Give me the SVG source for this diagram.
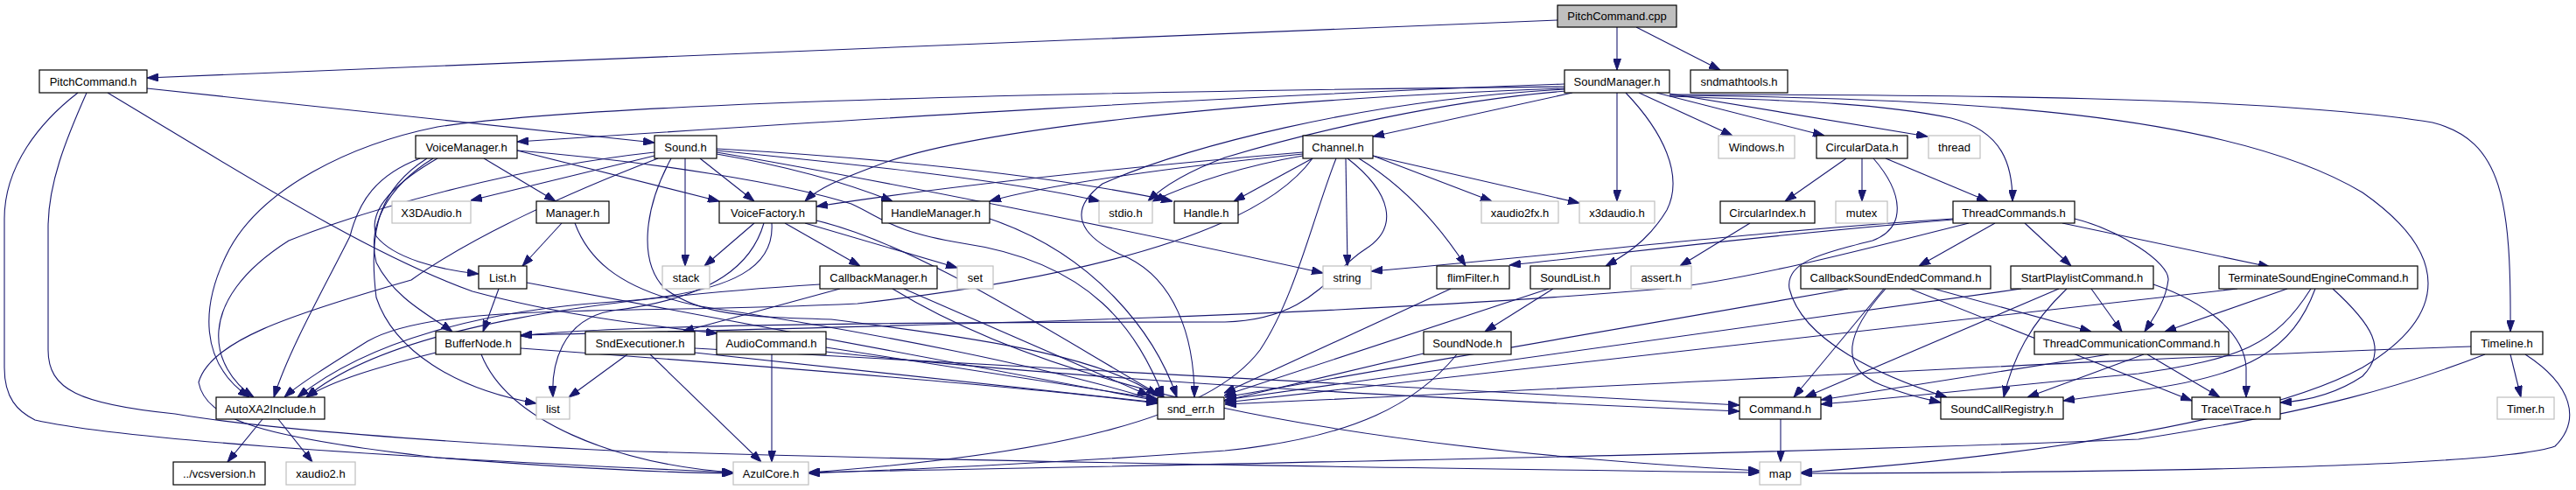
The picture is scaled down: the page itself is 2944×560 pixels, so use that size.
<svg xmlns="http://www.w3.org/2000/svg" width="2944" height="560" viewBox="0 0 2944 560">
<style>
.n rect{fill:#fff;stroke:#000;stroke-width:1.2}
.x rect{fill:#fff;stroke:#bfbfbf;stroke-width:1.2}
.r rect{fill:#bfbfbf;stroke:#000;stroke-width:1.2}
text{font-family:"Liberation Sans",Arial,sans-serif;font-size:13px;text-anchor:middle;fill:#000}
#edges path{fill:none;stroke:#191970;stroke-width:1.1;marker-end:url(#a)}
</style>
<defs>
<marker id="a" viewBox="0 0 13 9" refX="13" refY="4.5" markerWidth="13" markerHeight="9" markerUnits="userSpaceOnUse" orient="auto"><path d="M0,0L13,4.5L0,9z" fill="#191970" stroke="#191970"/></marker>
</defs>
<rect width="2944" height="560" fill="#fff"/>
<g id="edges">
<path d="M1780,23 L168,89"/>
<path d="M1848,31 L1848,80"/>
<path d="M1870,31 L1966,80"/>
<path d="M168,101 L748,163"/>
<path d="M123,106 C280,200 420,290 540,333 C640,360 740,372 820,381"/>
<path d="M89,106 C45,140 5,190 5,250 L5,420 C5,455 20,470 40,480 C150,505 500,525 838,540"/>
<path d="M99,106 C75,160 55,210 55,260 L55,400 C55,445 90,462 200,473 C300,490 500,505 700,515 C1200,530 1700,536 2011,540"/>
<path d="M1788,96 C1400,110 1000,135 591,162"/>
<path d="M1797,106 L1569,156"/>
<path d="M1788,99 C1300,104 700,115 500,145 C400,165 300,215 262,285 C228,350 228,415 285,454"/>
<path d="M1788,101 C1400,115 1100,150 1000,190 C960,205 935,215 920,230"/>
<path d="M1790,104 C1650,115 1500,150 1400,180 C1360,195 1330,212 1312,230"/>
<path d="M1790,102 C1550,115 1350,170 1260,210 C1220,240 1230,270 1290,295 C1340,320 1365,380 1365,454"/>
<path d="M1858,106 C1900,150 1925,200 1905,240 C1890,265 1870,285 1835,304"/>
<path d="M1873,106 L1980,155"/>
<path d="M1893,106 L2085,155"/>
<path d="M1908,107 L2203,156"/>
<path d="M1908,110 C2050,115 2150,118 2230,135 C2290,150 2300,190 2300,230"/>
<path d="M1908,108 C2200,108 2600,110 2780,140 C2860,160 2870,230 2869,379"/>
<path d="M1908,109 C2250,112 2550,130 2700,220 C2800,290 2800,360 2700,420 C2600,475 2350,520 2058,540"/>
<path d="M1848,106 L1848,230"/>
<path d="M748,178 L538,229"/>
<path d="M800,181 L862,230"/>
<path d="M819,176 C900,190 970,210 1020,230"/>
<path d="M819,172 C950,185 1150,205 1257,230"/>
<path d="M819,170 C1000,180 1200,200 1340,230"/>
<path d="M819,174 C1000,205 1300,265 1512,312"/>
<path d="M767,181 C735,240 730,300 760,330 C800,360 850,362 950,365 C1150,390 1260,410 1323,452"/>
<path d="M783,181 L783,304"/>
<path d="M748,174 C600,190 430,235 330,275 C220,345 240,420 290,454"/>
<path d="M752,181 C650,220 540,270 470,320 C330,360 240,390 227,437 C235,480 300,500 500,523 C650,535 750,540 838,541"/>
<path d="M500,181 C450,210 420,240 430,270 C450,295 500,308 547,313"/>
<path d="M553,181 L635,230"/>
<path d="M591,172 L822,230"/>
<path d="M480,181 C430,200 410,230 400,270 C370,330 330,400 313,454"/>
<path d="M495,181 C440,215 420,260 430,300 C450,340 490,360 517,379"/>
<path d="M488,181 C435,215 420,260 430,340 C450,400 520,445 613,461"/>
<path d="M591,172 C750,185 900,210 973,233 C1010,250 1020,265 1100,278 C1250,300 1300,380 1330,454"/>
<path d="M642,255 L597,304"/>
<path d="M657,255 C670,290 700,330 800,350 C1000,380 1200,420 1323,458"/>
<path d="M862,255 L805,304"/>
<path d="M873,255 C860,300 820,340 700,355 C640,365 630,420 632,454"/>
<path d="M882,255 C885,300 850,335 700,345 C550,355 420,390 340,454"/>
<path d="M897,255 L983,304"/>
<path d="M920,255 L1094,306"/>
<path d="M933,252 C1050,280 1200,380 1330,454"/>
<path d="M960,330 L780,379"/>
<path d="M937,325 C700,340 450,370 350,454"/>
<path d="M1033,330 L1313,452"/>
<path d="M1020,330 C1200,440 1500,510 2011,538"/>
<path d="M1489,174 C1300,190 1100,210 933,236"/>
<path d="M1489,176 C1350,190 1200,210 1131,230"/>
<path d="M1489,178 C1420,190 1360,210 1317,230"/>
<path d="M1500,181 L1410,230"/>
<path d="M1538,181 L1540,304"/>
<path d="M1569,178 L1705,230"/>
<path d="M1569,178 L1805,232"/>
<path d="M1553,181 C1600,210 1640,250 1675,304"/>
<path d="M1527,181 C1500,250 1480,340 1440,400 C1380,480 1200,520 924,540"/>
<path d="M1540,181 C1590,220 1600,260 1560,285 C1520,310 1500,365 1400,368 C1100,368 700,370 595,384"/>
<path d="M1500,181 C1450,250 1300,310 980,347 C700,360 500,345 420,390 C380,415 340,440 325,454"/>
<path d="M1131,250 C1250,290 1320,380 1345,454"/>
<path d="M570,330 L552,379"/>
<path d="M602,323 L1323,458"/>
<path d="M498,403 C430,420 380,435 350,454"/>
<path d="M550,405 C580,480 700,530 838,540"/>
<path d="M595,398 C900,420 1200,445 1323,461"/>
<path d="M717,405 L650,454"/>
<path d="M743,405 L870,528"/>
<path d="M794,403 L1323,460"/>
<path d="M794,398 C1200,420 1700,450 1988,463"/>
<path d="M882,405 L882,528"/>
<path d="M944,397 L1323,456"/>
<path d="M944,402 C1300,440 1700,458 1988,470"/>
<path d="M1658,330 L1399,449"/>
<path d="M1770,330 L1399,452"/>
<path d="M1775,330 L1697,379"/>
<path d="M1627,404 L1399,458"/>
<path d="M1665,405 C1620,460 1550,500 1400,515 C1200,530 1000,538 924,541"/>
<path d="M2110,181 L2040,230"/>
<path d="M2128,181 L2128,230"/>
<path d="M2155,181 L2272,230"/>
<path d="M2141,181 C2175,220 2180,260 2140,275 C2080,290 2040,300 2045,330 C2060,390 2150,430 2225,454"/>
<path d="M2000,255 L1920,304"/>
<path d="M2280,255 L2193,304"/>
<path d="M2314,255 L2367,304"/>
<path d="M2357,255 L2594,305"/>
<path d="M2371,250 C2420,262 2480,300 2478,320 C2475,345 2460,365 2451,379"/>
<path d="M2232,250 C2000,265 1800,290 1567,310"/>
<path d="M2232,251 C2000,270 1850,290 1725,303"/>
<path d="M2250,255 C2150,280 2000,320 1900,330 C1500,365 900,375 595,383"/>
<path d="M2112,330 L1400,454"/>
<path d="M2153,330 L2050,454"/>
<path d="M2155,330 C2110,380 2100,420 2150,440 C2180,452 2200,456 2218,460"/>
<path d="M2183,330 L2505,458"/>
<path d="M2210,330 L2390,379"/>
<path d="M2310,330 L1400,457"/>
<path d="M2353,330 L2063,454"/>
<path d="M2362,330 C2320,370 2300,410 2290,454"/>
<path d="M2390,330 L2425,379"/>
<path d="M2461,325 C2520,345 2565,380 2567,420 L2567,454"/>
<path d="M2557,330 L1400,460"/>
<path d="M2614,330 L2474,379"/>
<path d="M2641,330 C2600,395 2560,410 2444,427 C2300,440 2200,452 2081,462"/>
<path d="M2646,330 C2620,400 2570,430 2444,446 L2358,458"/>
<path d="M2666,330 C2710,370 2730,400 2700,430 C2670,450 2640,458 2606,460"/>
<path d="M2410,405 L2081,457"/>
<path d="M2450,405 L2317,454"/>
<path d="M2454,405 L2537,454"/>
<path d="M2035,479 L2035,528"/>
<path d="M2869,405 L2881,454"/>
<path d="M2824,396 C2400,410 1900,440 1400,462"/>
<path d="M2840,405 C2750,440 2650,470 2444,502 C2000,520 1400,530 924,540"/>
<path d="M2886,405 C2940,440 2950,480 2920,510 C2850,535 2400,540 2058,541"/>
<path d="M300,479 L260,528"/>
<path d="M318,479 L357,528"/>
</g>
<g id="n_pitchcpp" class="r"><rect x="1780" y="6" width="136" height="25"/><text x="1848" y="23">PitchCommand.cpp</text></g>
<g id="n_pitchh" class="n"><rect x="45" y="80" width="123" height="26"/><text x="106.5" y="97.5">PitchCommand.h</text></g>
<g id="n_soundmanager" class="n"><rect x="1788" y="80" width="120" height="26"/><text x="1848" y="97.5">SoundManager.h</text></g>
<g id="n_sndmathtools" class="n"><rect x="1932" y="80" width="111" height="26"/><text x="1987.5" y="97.5">sndmathtools.h</text></g>
<g id="n_voicemanager" class="n"><rect x="475" y="155" width="116" height="26"/><text x="533" y="172.5">VoiceManager.h</text></g>
<g id="n_sound" class="n"><rect x="748" y="155" width="71" height="26"/><text x="783.5" y="172.5">Sound.h</text></g>
<g id="n_channel" class="n"><rect x="1489" y="155" width="80" height="26"/><text x="1529" y="172.5">Channel.h</text></g>
<g id="n_windows" class="x"><rect x="1964" y="155" width="87" height="26"/><text x="2007.5" y="172.5">Windows.h</text></g>
<g id="n_circulardata" class="n"><rect x="2076" y="155" width="104" height="26"/><text x="2128" y="172.5">CircularData.h</text></g>
<g id="n_thread" class="x"><rect x="2204" y="155" width="59" height="26"/><text x="2233.5" y="172.5">thread</text></g>
<g id="n_x3daudio_u" class="x"><rect x="448" y="230" width="90" height="25"/><text x="493" y="247.5">X3DAudio.h</text></g>
<g id="n_manager" class="n"><rect x="613" y="230" width="83" height="25"/><text x="654.5" y="247.5">Manager.h</text></g>
<g id="n_voicefactory" class="n"><rect x="822" y="230" width="111" height="25"/><text x="877.5" y="247.5">VoiceFactory.h</text></g>
<g id="n_handlemanager" class="n"><rect x="1008" y="230" width="123" height="25"/><text x="1069.5" y="247.5">HandleManager.h</text></g>
<g id="n_stdio" class="x"><rect x="1256" y="230" width="61" height="25"/><text x="1286.5" y="247.5">stdio.h</text></g>
<g id="n_handle" class="n"><rect x="1342" y="230" width="73" height="25"/><text x="1378.5" y="247.5">Handle.h</text></g>
<g id="n_xaudio2fx" class="x"><rect x="1693" y="230" width="88" height="25"/><text x="1737" y="247.5">xaudio2fx.h</text></g>
<g id="n_x3daudio" class="x"><rect x="1805" y="230" width="86" height="25"/><text x="1848" y="247.5">x3daudio.h</text></g>
<g id="n_circularindex" class="n"><rect x="1966" y="230" width="108" height="25"/><text x="2020" y="247.5">CircularIndex.h</text></g>
<g id="n_mutex" class="x"><rect x="2098" y="230" width="59" height="25"/><text x="2127.5" y="247.5">mutex</text></g>
<g id="n_threadcommands" class="n"><rect x="2232" y="230" width="139" height="25"/><text x="2301.5" y="247.5">ThreadCommands.h</text></g>
<g id="n_list_h" class="n"><rect x="547" y="304" width="55" height="26"/><text x="574.5" y="321.5">List.h</text></g>
<g id="n_stack" class="x"><rect x="757" y="304" width="54" height="26"/><text x="784" y="321.5">stack</text></g>
<g id="n_callbackmanager" class="n"><rect x="937" y="304" width="134" height="26"/><text x="1004" y="321.5">CallbackManager.h</text></g>
<g id="n_set" class="x"><rect x="1094" y="304" width="41" height="26"/><text x="1114.5" y="321.5">set</text></g>
<g id="n_string" class="x"><rect x="1512" y="304" width="55" height="26"/><text x="1539.5" y="321.5">string</text></g>
<g id="n_flimfilter" class="n"><rect x="1642" y="304" width="83" height="26"/><text x="1683.5" y="321.5">flimFilter.h</text></g>
<g id="n_soundlist" class="n"><rect x="1749" y="304" width="91" height="26"/><text x="1794.5" y="321.5">SoundList.h</text></g>
<g id="n_assert" class="x"><rect x="1864" y="304" width="69" height="26"/><text x="1898.5" y="321.5">assert.h</text></g>
<g id="n_cbsoundended" class="n"><rect x="2058" y="304" width="217" height="26"/><text x="2166.5" y="321.5">CallbackSoundEndedCommand.h</text></g>
<g id="n_startplaylist" class="n"><rect x="2298" y="304" width="163" height="26"/><text x="2379.5" y="321.5">StartPlaylistCommand.h</text></g>
<g id="n_terminate" class="n"><rect x="2536" y="304" width="227" height="26"/><text x="2649.5" y="321.5">TerminateSoundEngineCommand.h</text></g>
<g id="n_buffernode" class="n"><rect x="498" y="379" width="97" height="26"/><text x="546.5" y="396.5">BufferNode.h</text></g>
<g id="n_sndexecutioner" class="n"><rect x="669" y="379" width="125" height="26"/><text x="731.5" y="396.5">SndExecutioner.h</text></g>
<g id="n_audiocommand" class="n"><rect x="819" y="379" width="125" height="26"/><text x="881.5" y="396.5">AudioCommand.h</text></g>
<g id="n_soundnode" class="n"><rect x="1627" y="379" width="100" height="26"/><text x="1677" y="396.5">SoundNode.h</text></g>
<g id="n_threadcomm" class="n"><rect x="2325" y="379" width="222" height="26"/><text x="2436" y="396.5">ThreadCommunicationCommand.h</text></g>
<g id="n_timeline" class="n"><rect x="2824" y="379" width="82" height="26"/><text x="2865" y="396.5">Timeline.h</text></g>
<g id="n_autoxa2" class="n"><rect x="247" y="454" width="124" height="25"/><text x="309" y="471.5">AutoXA2Include.h</text></g>
<g id="n_list" class="x"><rect x="613" y="454" width="38" height="25"/><text x="632" y="471.5">list</text></g>
<g id="n_snderr" class="n"><rect x="1323" y="454" width="76" height="25"/><text x="1361" y="471.5">snd_err.h</text></g>
<g id="n_command" class="n"><rect x="1988" y="454" width="93" height="25"/><text x="2034.5" y="471.5">Command.h</text></g>
<g id="n_soundcallregistry" class="n"><rect x="2218" y="454" width="140" height="25"/><text x="2288" y="471.5">SoundCallRegistry.h</text></g>
<g id="n_trace" class="n"><rect x="2505" y="454" width="101" height="25"/><text x="2555.5" y="471.5">Trace\Trace.h</text></g>
<g id="n_timer" class="x"><rect x="2854" y="454" width="65" height="25"/><text x="2886.5" y="471.5">Timer.h</text></g>
<g id="n_vcsversion" class="n"><rect x="198" y="528" width="105" height="26"/><text x="250.5" y="545.5">../vcsversion.h</text></g>
<g id="n_xaudio2" class="x"><rect x="327" y="528" width="79" height="26"/><text x="366.5" y="545.5">xaudio2.h</text></g>
<g id="n_azulcore" class="x"><rect x="838" y="528" width="86" height="26"/><text x="881" y="545.5">AzulCore.h</text></g>
<g id="n_map" class="x"><rect x="2011" y="528" width="47" height="26"/><text x="2034.5" y="545.5">map</text></g>
</svg>
